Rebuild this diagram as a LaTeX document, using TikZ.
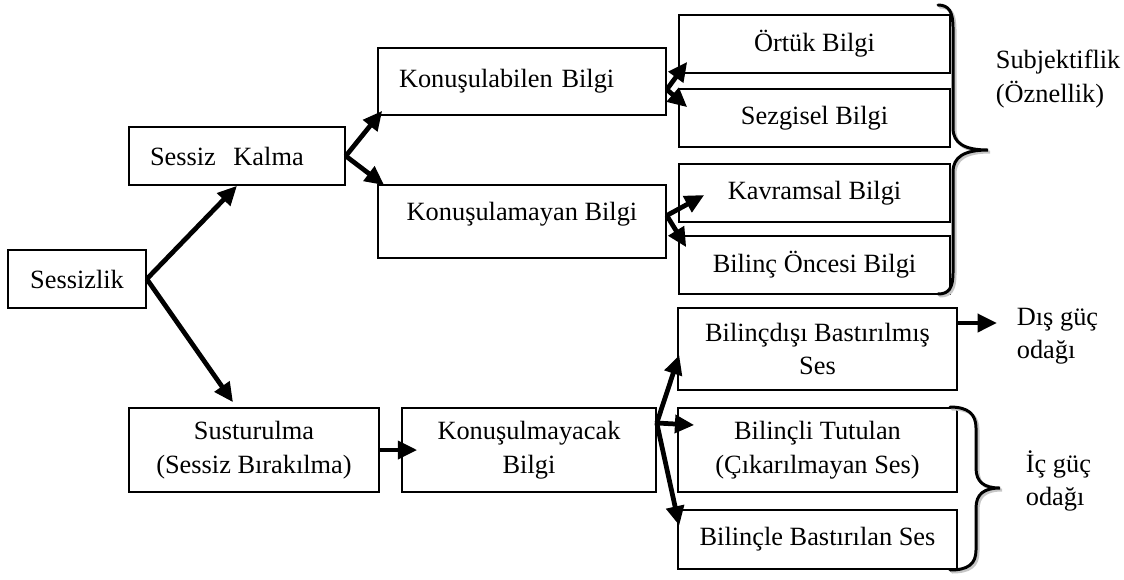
\documentclass[tikz,border=0pt]{standalone}
\usepackage{fontspec}
\setmainfont{Liberation Serif}
\usetikzlibrary{arrows.meta}
\begin{document}
\begin{tikzpicture}[x=0.02cm, y=-0.02cm,
    infobox/.style={rectangle, draw=black, line width=0.9pt, minimum width=5.42cm, minimum height=1.16cm, align=center, inner sep=2pt, font=\fontsize{15}{19}\selectfont},
    sidetext/.style={anchor=west, align=left, inner sep=2pt, font=\fontsize{15}{19}\selectfont},
    arr/.style={-{Triangle[length=11pt,width=10pt]}, line width=2.7pt},
    bracepath/.style={line width=1.7pt, line cap=round},
    braceshadow/.style={bracepath, gray!45, shift={(2,2)}}
]
\useasboundingbox (0,0) rectangle (1124,579);

\node[infobox, minimum width=2.76cm] (sessizlik) at (77,279) {Sessizlik};
\node[infobox, minimum width=4.32cm, text width=3.48cm, align=left, inner xsep=0.42cm] (kalma) at (237,156) {Sessiz\ \ Kalma};
\node[infobox, minimum width=5.76cm, minimum height=1.34cm, text width=4.92cm, align=left, inner xsep=0.42cm] (konlab) at (522,81.5) {Konuşulabilen Bilgi};
\node[infobox, minimum width=5.76cm, minimum height=1.46cm, text depth=0.4cm] (konlam) at (522,221.5) {Konuşulamayan Bilgi};
\node[infobox] (ortuk) at (814.5,44) {Örtük Bilgi};
\node[infobox] (sezgisel) at (814.5,118) {Sezgisel Bilgi};
\node[infobox] (kavramsal) at (814.5,193) {Kavramsal Bilgi};
\node[infobox] (oncesi) at (814.5,265) {Bilinç Öncesi Bilgi};
\node[infobox, minimum width=5.0cm, minimum height=1.68cm] (sustur) at (254,450) {Susturulma\\(Sessiz Bırakılma)};
\node[infobox, minimum width=5.08cm, minimum height=1.68cm] (konmay) at (529,450) {Konuşulmayacak\\Bilgi};
\node[infobox, minimum width=5.58cm, minimum height=1.64cm] (bdisi) at (817.5,349) {Bilinçdışı Bastırılmış\\Ses};
\node[infobox, minimum width=5.58cm, minimum height=1.68cm] (btutulan) at (817.5,450) {Bilinçli Tutulan\\(Çıkarılmayan Ses)};
\node[infobox, minimum width=5.58cm, minimum height=1.18cm] (bbastir) at (817.5,539.5) {Bilinçle Bastırılan Ses};

\node[sidetext] (subj) at (992,79) {Subjektiflik\\(Öznellik)};
\node[sidetext] (dis) at (1013,336) {Dış güç\\odağı};
\node[sidetext] (ic) at (1022,481) {İç güç\\odağı};

\draw[arr] (sessizlik.east) -- (kalma.south);
\draw[arr] (sessizlik.east) -- ([shift={(-21,-5)}]sustur.north);
\draw[arr] (kalma.east) -- ([shift={(5,-5)}]konlab.south west);
\draw[arr] (kalma.east) -- ([shift={(7,1)}]konlam.north west);
\draw[arr] ([shift={(0,8)}]konlab.east) -- ([shift={(9,-12)}]ortuk.south west);
\draw[arr] ([shift={(0,8)}]konlab.east) -- ([shift={(9,19)}]sezgisel.north west);
\draw[arr] ([shift={(0,-6)}]konlam.east) -- ([shift={(26,2)}]kavramsal.west);
\draw[arr] ([shift={(0,-6)}]konlam.east) -- ([shift={(8,12)}]oncesi.north west);
\draw[arr] (sustur.east) -- ([shift={(16,0)}]konmay.west);
\coordinate (kmout) at ([shift={(0,-27)}]konmay.east);
\draw[arr] (kmout) -- ([shift={(2,6)}]bdisi.west);
\draw[arr] (kmout) -- ([shift={(17,-25)}]btutulan.west);
\draw[arr] (kmout) -- ([shift={(2,-14)}]bbastir.west);
\coordinate (disuc) at (997,323);
\draw[arr] ([shift={(0,-26)}]bdisi.east) -- (disuc);

\draw[braceshadow] (938,5) .. controls (949,5) and (953,12) .. (953,28) -- (953,128) .. controls (953,143) and (964,150) .. (988,150) .. controls (964,150) and (953,157) .. (953,172) -- (953,272) .. controls (953,288) and (949,294) .. (938,294);
\draw[bracepath] (938,5) .. controls (949,5) and (953,12) .. (953,28) -- (953,128) .. controls (953,143) and (964,150) .. (988,150) .. controls (964,150) and (953,157) .. (953,172) -- (953,272) .. controls (953,288) and (949,294) .. (938,294);
\draw[braceshadow] (950,407) .. controls (968,407) and (976,414) .. (976,428) -- (976,468) .. controls (976,482) and (984,488) .. (1000,488) .. controls (984,488) and (976,494) .. (976,508) -- (976,550) .. controls (976,564) and (968,570) .. (950,570);
\draw[bracepath] (950,407) .. controls (968,407) and (976,414) .. (976,428) -- (976,468) .. controls (976,482) and (984,488) .. (1000,488) .. controls (984,488) and (976,494) .. (976,508) -- (976,550) .. controls (976,564) and (968,570) .. (950,570);
\end{tikzpicture}
\end{document}
